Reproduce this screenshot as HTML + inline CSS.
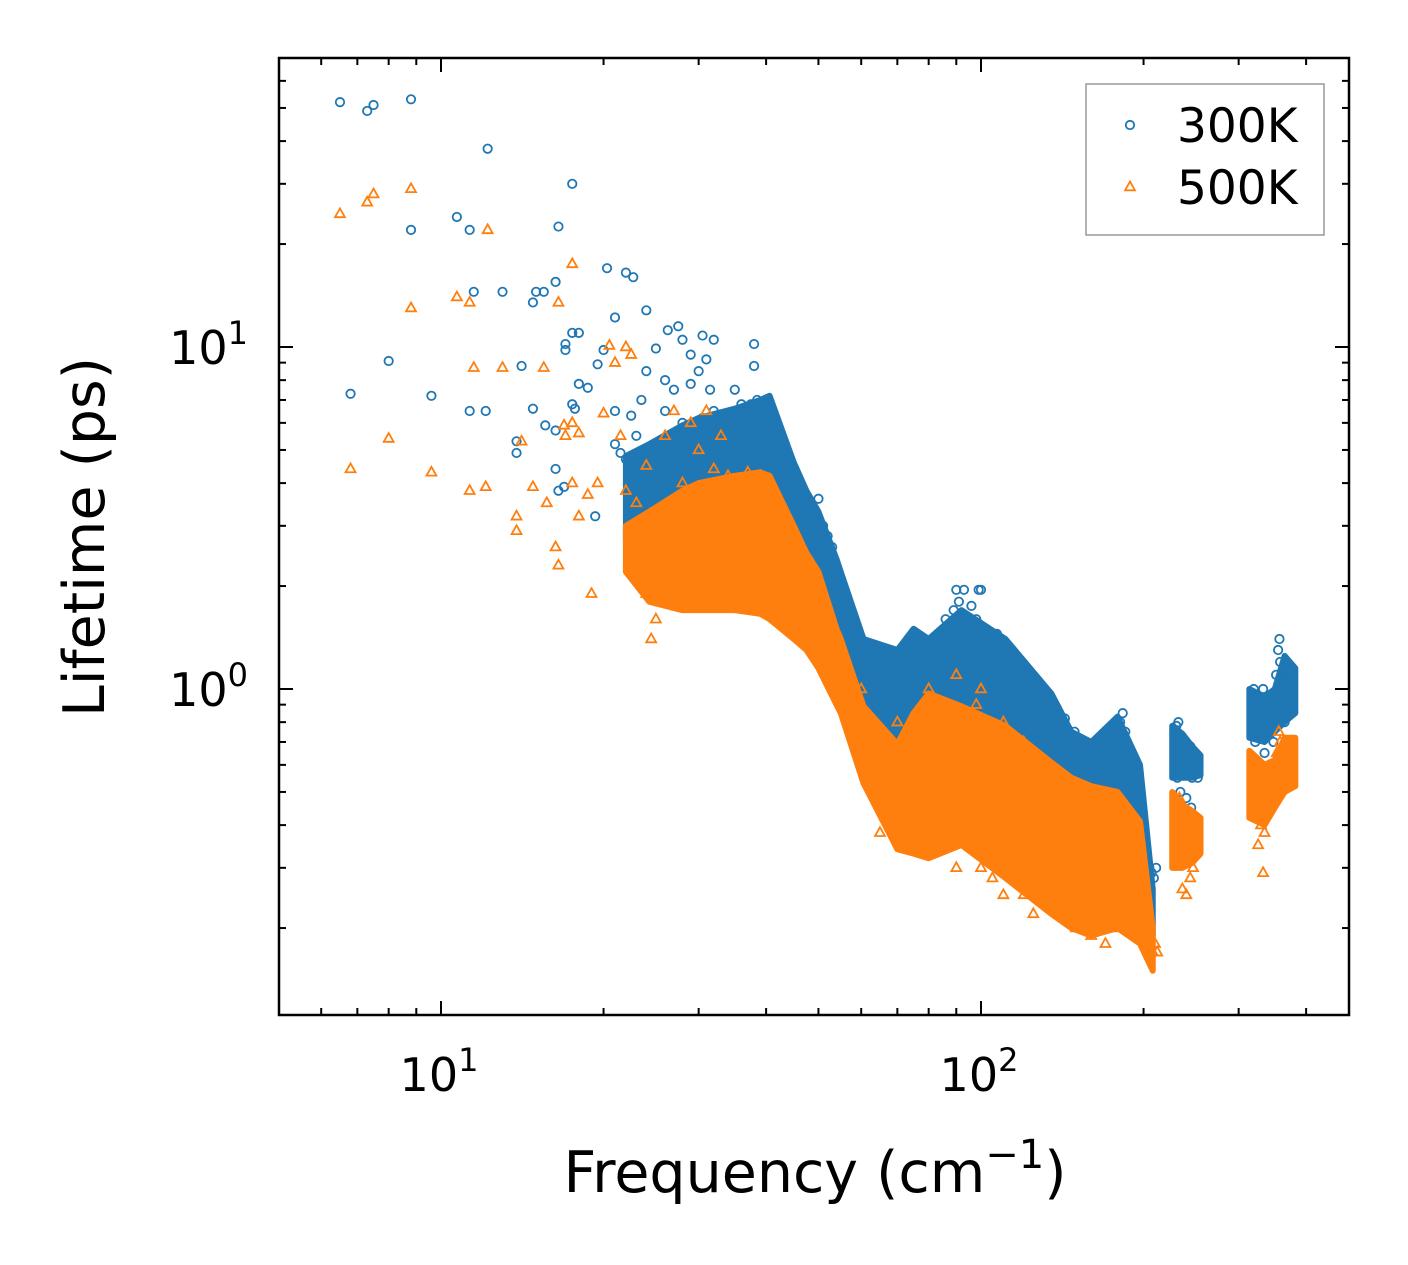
<!DOCTYPE html>
<html><head><meta charset="utf-8"><style>
html,body{margin:0;padding:0;background:#fff;}
svg{display:block;font-family:"DejaVu Sans","Liberation Sans",sans-serif;}
</style></head><body>
<svg id="chart" width="1408" height="1265" viewBox="0 0 1408 1265" xmlns="http://www.w3.org/2000/svg">
<rect width="1408" height="1265" fill="#fff"/>
<g id="bands"></g>
<g id="marks"></g>
<g id="axes"></g>
</svg>
<script>
const seriesNames = ["300K","500K"];
const xMajorTicks = [10,100];
const yMajorTicks = [1,10];
// dense envelopes (where points merge into a solid mass)
const bandFreq    = [22,24.3,28,30,35,39,40.6,45,47.5,50,54,55,60.6,70,75,80,92,111,135,147,160,179,197,208];
const blueUpper   = [4.8,5.2,5.9,6.2,6.6,7.0,7.2,4.6,3.8,3.3,2.4,2.2,1.4,1.3,1.5,1.4,1.7,1.4,0.97,0.75,0.7,0.83,0.6,0.26];
const blueLower   = [2.7,3.0,3.4,3.6,3.8,3.9,3.8,2.7,2.2,2.0,1.35,1.25,0.8,0.62,0.75,0.85,0.8,0.7,0.55,0.5,0.47,0.45,0.37,0.19];
const orangeUpper = [3.0,3.3,3.8,4.0,4.2,4.3,4.2,3.0,2.5,2.2,1.5,1.4,0.89,0.69,0.85,0.97,0.89,0.78,0.61,0.55,0.52,0.5,0.41,0.2];
const orangeLower = [2.2,1.8,1.7,1.7,1.7,1.66,1.6,1.4,1.3,1.15,0.9,0.85,0.53,0.34,0.33,0.32,0.35,0.28,0.22,0.2,0.19,0.2,0.18,0.15];
const island1Freq   = [226,236,246,255];
const island1Blue   = [[0.55,0.78],[0.55,0.74],[0.55,0.68],[0.56,0.64]];
const island1Orange = [[0.3,0.5],[0.3,0.46],[0.31,0.44],[0.33,0.42]];
const island2Freq   = [314,335,350,365,382];
const island2Blue   = [[0.72,1.0],[0.7,0.95],[0.75,1.0],[0.8,1.25],[0.85,1.15]];
const island2Orange = [[0.42,0.66],[0.4,0.6],[0.45,0.62],[0.5,0.72],[0.52,0.72]];

const blue300K = [
[6.5,52],[7.3,49],[7.5,51],[8.8,53],[12.2,38],[17.5,30],[16.5,22.5],[8.8,22],[10.7,24],[11.3,22],[11.5,14.5],[13,14.5],[15,14.5],[15.5,14.5],[16.3,15.5],[20.3,17],[22,16.5],[22.7,16],
[6.8,7.3],[8,9.1],[9.6,7.2],[11.3,6.5],[12.1,6.5],[14.1,8.8],[14.8,6.6],[14.8,13.5],[15.6,5.9],[16.3,5.7],[13.8,5.3],[13.8,4.9],[16.3,4.4],[16.9,3.9],[16.5,3.8],[17.5,6.8],[17.7,6.6],[18,7.8],[18.7,7.6],[19.3,3.2],[17,9.8],[17,10.2],[17.5,11],[18,11],[19.5,8.9],[20,9.8],[21,12.2],[21,5.2],[21.5,4.9],[22,4.7],[21,6.5],[22.5,6.3],[24,12.8],[25,9.9],[26,8],[26.3,11.2],[27.5,11.5],[28,10.5],[29,7.8],[30.5,10.8],[31,9.2],[31.5,7.5],[32,10.5],[38,10.2],[38,8.8],[23,5.5],[23.5,7],[24,8.5],[26,6.5],[27,7.5],[29,9.5],[30,8.5],[35,7.5],[36,6.8],
[24,4.5],[24.5,3.8],[25,5.2],[25.5,4],[26,3.5],[26.5,4.6],[27,5.5],[27,3.2],[27.5,4.2],[28,6],[28,3.7],[28.5,5],[29,4.4],[29,3.1],[29.5,5.8],[30,4.8],[30,3.4],[30.5,6.2],[31,4],[31,5.3],[31.5,3.6],[32,4.6],[32,6.5],[32.5,5],[33,3.8],[33,5.8],[33.5,4.4],[34,6.2],[34,3.6],[34.5,5],[35,4.3],[35,6],[35.5,5.4],[36,3.9],[36,6.5],[36.5,4.8],[37,5.8],[37,3.5],[37.5,6.8],[38,4.5],[38,5.5],[38.5,7],[39,6.2],[39,4],[39.5,5],[40,6.8],[40,3.6],[40.5,5.8],[41,6.4],[41,4.4],[41.5,5.3],[42,5.6],[42,3.9],[43,5],[43,4.2],[44,4.8],[44,3.5],[45,4.4],[45,3.2],[46,4],[46,3],[47,3.8],[47,2.8],[48,3.5],[48,2.6],[49,3.2],[50,3.6],[50,2.5],[51,3],[52,2.8],[52,2.3],[53,2.6],[54,2.2],[55,2.1],[56,1.8],[57,1.7],[58,1.6],[59,1.5],[60,1.3],[61,1.1],[62,0.95],[63,0.85],[64,0.9],[65,1.0],[66,0.8],[67,0.75],[68,0.9],[69,1.0],[70,0.85],[71,1.1],[72,0.95],[73,1.2],[74,1.05],[75,1.3],[76,1.15],[77,1.4],[78,1.2],[79,1.0],[80,1.3],[82,1.15],[84,1.05],[85,1.3],[86,1.6],[88,1.45],[89,1.7],[90,1.95],[91,1.8],[92,1.6],[93,1.95],[94,1.5],[95,1.4],[96,1.75],[97,1.3],[98,1.6],[99,1.95],[100,1.95],[101,1.5],[103,1.4],[105,1.3],[107,1.45],[108,1.2],[110,1.35],[112,1.15],[114,1.3],[116,1.05],[118,1.2],[120,1.0],[122,1.1],[124,0.95],[126,1.05],[128,0.9],[130,1.0],[132,0.85],[134,0.9],[136,0.8],[138,0.88],[140,0.78],[143,0.82],[146,0.72],[149,0.75],[152,0.68],[155,0.7],[158,0.64],[161,0.66],[164,0.6],[167,0.62],[170,0.58],[173,0.6],[176,0.55],[179,0.7],[181,0.8],[183,0.85],[185,0.75],[187,0.65],[189,0.6],[191,0.55],[193,0.5],[195,0.45],[197,0.42],[199,0.38],[201,0.35],[203,0.32],[205,0.3],[207,0.29],[209,0.28],[211,0.3],
[70,1.0],[80,1.1],[90,1.2],[100,1.2],[110,1.1],[120,0.9],[130,0.8],[140,0.7],[150,0.62],[160,0.58],[170,0.55],[180,0.55],[85,1.1],[95,1.15],[105,1.05],[115,0.95],[125,0.85],[135,0.75],[145,0.68],[155,0.6],[165,0.56],[175,0.52],
[30,2.5],[33,3],[36,3.2],[39,3.4],[42,3.2],[45,2.8],[48,2.2],[50,2],[52,1.9],[55,1.6],[58,1.4],[58,1.2],[60,1.1],[56,1.5],[44,2.5],[47,2.4],[53,2.0],
[230,0.78],[232,0.8],[234,0.72],[236,0.65],[238,0.7],[240,0.62],[242,0.6],[244,0.68],[246,0.55],[248,0.58],[250,0.62],[252,0.55],[234,0.5],[240,0.48],[245,0.45],[231,0.55],[236,0.42],
[320,1.0],[322,0.9],[325,0.8],[328,0.95],[330,0.85],[333,1.0],[336,0.9],[340,0.75],[345,0.8],[348,0.7],[350,0.9],[352,1.1],[355,1.3],[357,1.4],[358,1.2],[360,1.1],[362,1.0],[364,0.95],[366,1.05],[368,1.15],[370,1.0],[322,0.7],[335,0.65],[365,0.8]
];
const orange500K = [
[6.5,24.5],[7.3,26.5],[7.5,28],[8.8,29],[8.8,13],[10.7,14],[11.3,13.5],[12.2,22],[17.5,17.5],[16.5,13.5],[6.8,4.4],[8,5.4],[9.6,4.3],[11.3,3.8],[12.1,3.9],[11.5,8.7],[13,8.7],[14.1,5.3],[13.8,3.2],[13.8,2.9],[14.8,3.9],[15.5,8.7],[15.7,3.5],[16.3,2.6],[16.5,2.3],[16.9,5.9],[17,5.5],[17.5,6],[17.5,4],[18,5.6],[18,3.2],[18.7,3.7],[19,1.9],[19.5,4],[20,6.4],[20.5,10.1],[21,9],[21.5,5.5],[22,10],[22.5,9.5],[22,3.8],[23,3.5],[23,2.2],[24,1.9],[24.5,1.4],[25,1.6],[24,4.5],[26,5.5],[27,6.5],[29,6],[31,6.5],[33,5.5],[28,1.8],[32,1.9],
[25,3],[26,2.5],[27,3.5],[27.5,2],[28,4],[28.5,2.8],[29,2.2],[29.5,3.6],[30,5],[30,2.6],[31,3.2],[31.5,2.1],[32,4.4],[32.5,2.9],[33,3.8],[33.5,2.3],[34,4.2],[34.5,2.7],[35,3.5],[35.5,2.1],[36,3.9],[36.5,2.5],[37,4.3],[37.5,3],[38,2.2],[38.5,3.6],[39,4.2],[39.5,2.7],[40,3.8],[40.5,2.4],[41,3.3],[41.5,2.8],[42,3.5],[42.5,2.2],[43,3],[43.5,2],[44,2.8],[45,2.4],[45,1.9],[46,2.5],[47,2.1],[47,1.7],[48,2.2],[49,1.8],[50,1.9],[50,1.5],[51,1.6],[52,1.5],[53,1.3],[54,1.25],[55,1.2],[56,1.1],[57,1.0],[58,0.95],[59,0.85],[60,0.8],[61,0.75],[62,0.7],[63,0.6],[64,0.55],[65,0.5],[66,0.6],[67,0.5],[68,0.45],[69,0.55],[70,0.6],[71,0.5],[72,0.45],[73,0.55],[74,0.65],[75,0.7],[76,0.55],[77,0.5],[78,0.6],[79,0.75],[80,0.85],[81,0.65],[82,0.55],[83,0.5],[84,0.6],[85,0.7],[86,0.55],[88,0.65],[90,0.8],[92,0.6],[94,0.55],[96,0.7],[98,0.9],[100,0.75],[102,0.6],[104,0.55],[106,0.5],[108,0.65],[110,0.55],[112,0.5],[114,0.45],[116,0.55],[118,0.42],[120,0.5],[122,0.4],[124,0.45],[126,0.38],[128,0.42],[130,0.36],[132,0.4],[135,0.35],[138,0.38],[140,0.33],[143,0.36],[146,0.3],[149,0.34],[152,0.28],[155,0.32],[158,0.27],[161,0.3],[164,0.26],[167,0.3],[170,0.28],[173,0.35],[176,0.3],[179,0.4],[182,0.45],[184,0.38],[186,0.32],[188,0.28],[190,0.26],[192,0.24],[194,0.22],[196,0.21],[198,0.2],[200,0.19],[202,0.18],[204,0.18],[206,0.17],[208,0.17],[210,0.18],[212,0.17],
[65,0.38],[70,0.4],[75,0.35],[80,0.4],[85,0.35],[90,0.3],[95,0.35],[100,0.3],[105,0.28],[110,0.25],[115,0.3],[120,0.25],[125,0.22],[130,0.25],[140,0.22],[150,0.2],[160,0.19],[170,0.18],[180,0.2],
[60,1.0],[70,0.8],[80,1.0],[90,1.1],[100,1.0],[110,0.8],[120,0.7],[130,0.6],[140,0.55],[150,0.5],[160,0.45],[170,0.45],[75,0.5],[85,0.45],[95,0.45],[105,0.4],[115,0.38],[125,0.32],[135,0.3],[145,0.27],[155,0.25],[165,0.24],[175,0.23],
[233,0.48],[235,0.42],[237,0.38],[239,0.35],[241,0.4],[243,0.32],[245,0.36],[247,0.3],[249,0.33],[251,0.38],[240,0.25],[236,0.26],[244,0.28],
[320,0.6],[322,0.5],[325,0.45],[328,0.55],[330,0.4],[333,0.29],[336,0.5],[340,0.45],[345,0.55],[348,0.5],[350,0.6],[353,0.65],[356,0.75],[358,0.7],[360,0.6],[362,0.55],[365,0.65],[368,0.7],[370,0.6],[326,0.35],[335,0.38]
];

const L=279,R=1349,T=58,B=1015;
const X=v=>441+(Math.log10(v)-1)*540;
const Y=v=>347-(Math.log10(v)-1)*342;
const NS="http://www.w3.org/2000/svg";
function mk(tag,attrs,parent){const e=document.createElementNS(NS,tag);for(const k in attrs)e.setAttribute(k,attrs[k]);parent.appendChild(e);return e;}
const bands=document.getElementById('bands'), marks=document.getElementById('marks'), axes=document.getElementById('axes');

function bandPath(freqs, up, lo){
  let s='';
  freqs.forEach((f,i)=>{s+=(i?'L':'M')+X(f)+','+Y(up[i]);});
  for(let i=freqs.length-1;i>=0;i--) s+='L'+X(freqs[i])+','+Y(lo[i]);
  return s+'Z';
}
function islandPath(freqs, pairs){
  return bandPath(freqs, pairs.map(p=>p[1]), pairs.map(p=>p[0]));
}
const b1=mk('path',{d:bandPath(bandFreq,blueUpper,blueLower),fill:'#1f77b4',stroke:'#1f77b4','stroke-width':6,'stroke-linejoin':'round'},bands);


const b2=mk('path',{d:islandPath(island1Freq,island1Blue),fill:'#1f77b4',stroke:'#1f77b4','stroke-width':6,'stroke-linejoin':'round'},bands);


const b3=mk('path',{d:islandPath(island2Freq,island2Blue),fill:'#1f77b4',stroke:'#1f77b4','stroke-width':6,'stroke-linejoin':'round'},bands);



const gB=mk('g',{},marks);


blue300K.forEach(p=>{
  const c=mk('circle',{cx:X(p[0]),cy:Y(p[1]),r:4.2,fill:'none',stroke:'#1f77b4','stroke-width':1.8},gB);
  
  
});
const ob=mk('g',{},marks);


mk('path',{d:bandPath(bandFreq,orangeUpper,orangeLower),fill:'#ff7f0e',stroke:'#ff7f0e','stroke-width':6,'stroke-linejoin':'round'},ob);
mk('path',{d:islandPath(island1Freq,island1Orange),fill:'#ff7f0e',stroke:'#ff7f0e','stroke-width':6,'stroke-linejoin':'round'},ob);
mk('path',{d:islandPath(island2Freq,island2Orange),fill:'#ff7f0e',stroke:'#ff7f0e','stroke-width':6,'stroke-linejoin':'round'},ob);

const gO=mk('g',{},marks);


function tri(x,y,s){return `${x},${y-s} ${x-s*0.9},${y+s*0.6} ${x+s*0.9},${y+s*0.6}`;}
orange500K.forEach(p=>{
  const t=mk('polygon',{points:tri(X(p[0]),Y(p[1]),5.5),fill:'none',stroke:'#ff7f0e','stroke-width':1.8},gO);
  
  
});

const fr=mk('rect',{x:L,y:T,width:R-L,height:B-T,fill:'none',stroke:'#000','stroke-width':2.5},axes);


for(let d=1;d<=100;d*=10){for(let m=1;m<10;m++){const v=m*d;const x=X(v);if(x<L||x>R)continue;const len=m===1?14:7;
  mk('line',{x1:x,x2:x,y1:B,y2:B-len,stroke:'#000','stroke-width':2},axes);
  mk('line',{x1:x,x2:x,y1:T,y2:T+len,stroke:'#000','stroke-width':2},axes);}}
for(let d=0.1;d<=10;d*=10){for(let m=1;m<10;m++){const v=m*d;const y=Y(v);if(y<T||y>B)continue;const len=m===1?14:7;
  mk('line',{x1:L,x2:L+len,y1:y,y2:y,stroke:'#000','stroke-width':2},axes);
  mk('line',{x1:R,x2:R-len,y1:y,y2:y,stroke:'#000','stroke-width':2},axes);}}
xMajorTicks.forEach(v=>{
  const t=mk('text',{x:X(v)-2,y:1091,'text-anchor':'middle','font-size':46},axes);
  
  
  t.innerHTML='10<tspan dy="-20" font-size="32">'+Math.round(Math.log10(v))+'</tspan>';
});
yMajorTicks.forEach(v=>{
  const t=mk('text',{x:248,y:Y(v)+17,'text-anchor':'end','font-size':46},axes);
  
  
  t.innerHTML='10<tspan dy="-20" font-size="32">'+Math.round(Math.log10(v))+'</tspan>';
});
const xl=mk('text',{x:815,y:1192,'text-anchor':'middle','font-size':57},axes);


xl.innerHTML='Frequency (cm<tspan dy="-24" font-size="40">−1</tspan><tspan dy="24">)</tspan>';
const yl=mk('text',{x:0,y:0,'text-anchor':'middle','font-size':57,transform:'translate(104,537) rotate(-90)'},axes);


yl.textContent='Lifetime (ps)';
const lg=mk('g',{},axes);


mk('rect',{x:1086,y:84,width:238,height:151,fill:'#fff','fill-opacity':0.8,stroke:'#999','stroke-width':1.5},lg);
const e1=mk('g',{},lg);


mk('circle',{cx:1130,cy:125,r:4.2,fill:'none',stroke:'#1f77b4','stroke-width':1.8},e1);
mk('text',{x:1177,y:142,'font-size':47},e1).textContent=seriesNames[0];
const e2=mk('g',{},lg);


mk('polygon',{points:tri(1130,187,5.5),fill:'none',stroke:'#ff7f0e','stroke-width':1.8},e2);
mk('text',{x:1177,y:204,'font-size':47},e2).textContent=seriesNames[1];
</script>
</body></html>
